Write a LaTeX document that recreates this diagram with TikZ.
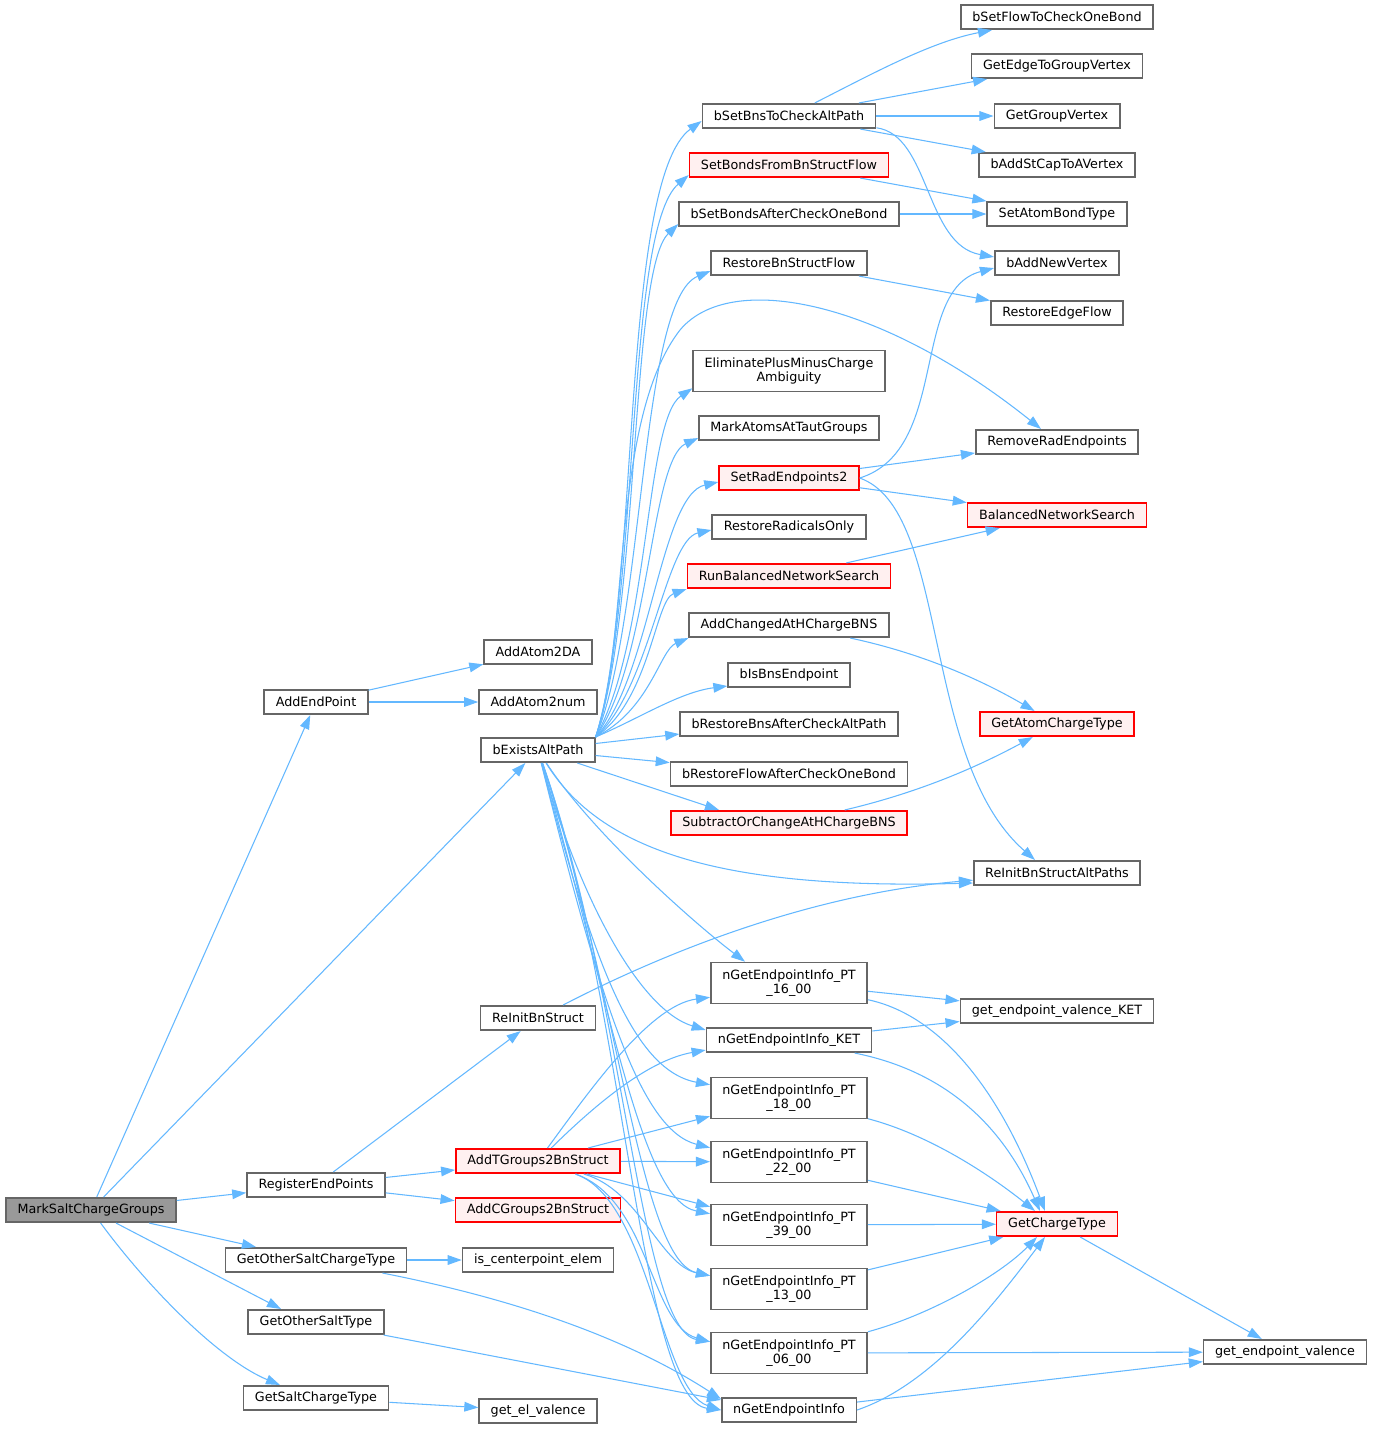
\documentclass[tikz,border=0pt]{standalone}
\usepackage{fontspec}
\setmainfont{DejaVu Sans}
\usepackage{tikz}
\usetikzlibrary{arrows.meta}
\definecolor{edgeblue}{HTML}{63B8FF}
\definecolor{boxgray}{HTML}{666666}
\definecolor{rootgray}{HTML}{999999}
\definecolor{warnred}{HTML}{FF0000}
\definecolor{warnfill}{HTML}{FFF0F0}
\tikzstyle{fn} = [rectangle, draw=boxgray, fill=white, line width=0.9pt, minimum height=0.49cm, inner xsep=0.23cm, inner ysep=0pt, font=\fontsize{7.25}{8.2}\selectfont]
\tikzstyle{fnred} = [fn, draw=warnred, fill=warnfill]
\tikzstyle{fnroot} = [fn, fill=rootgray]
\tikzstyle{twoline} = [align=center, minimum height=0.82cm]
\tikzstyle{arrow} = [draw=edgeblue, line width=0.6pt, -{Triangle[length=8pt,width=5.5pt]}]

\begin{document}
\begin{tikzpicture}[x=0.02cm, y=-0.02cm]
\fill[white] (0,0) rectangle (1375,1431);
\useasboundingbox (0,0) rectangle (1375,1431);
% callers side
\node[fnroot] (msc) at (91,1210) {MarkSaltChargeGroups};
\node[fn] (aep) at (316,702) {AddEndPoint};
\node[fn] (rep) at (316,1185) {RegisterEndPoints};
\node[fn] (gosct) at (316,1260) {GetOtherSaltChargeType};
\node[fn] (gost) at (316,1322) {GetOtherSaltType};
\node[fn] (gsct) at (316,1398) {GetSaltChargeType};
\node[fn] (a2da) at (538,652) {AddAtom2DA};
\node[fn] (a2n) at (538,702) {AddAtom2num};
\node[fn] (bex) at (538,750) {bExistsAltPath};
\node[fn] (ribs) at (538,1018) {ReInitBnStruct};
\node[fnred] (atg) at (538,1161) {AddTGroups2BnStruct};
\node[fnred] (acg) at (538,1210) {AddCGroups2BnStruct};
\node[fn] (ice) at (538,1260) {is\_centerpoint\_elem};
\node[fn] (gev) at (538,1411) {get\_el\_valence};
% middle column
\node[fn] (bsb) at (789,116) {bSetBnsToCheckAltPath};
\node[fnred] (sbf) at (789,165) {SetBondsFromBnStructFlow};
\node[fn] (sba) at (789,214) {bSetBondsAfterCheckOneBond};
\node[fn] (rbf) at (789,263) {RestoreBnStructFlow};
\node[fn, twoline] (epm) at (789,371) {EliminatePlusMinusCharge\\Ambiguity};
\node[fn] (mat) at (789,428) {MarkAtomsAtTautGroups};
\node[fnred] (sre) at (789,478) {SetRadEndpoints2};
\node[fn] (rro) at (789,527) {RestoreRadicalsOnly};
\node[fnred] (rbn) at (789,576) {RunBalancedNetworkSearch};
\node[fn] (aca) at (789,625) {AddChangedAtHChargeBNS};
\node[fn] (ibe) at (789,675) {bIsBnsEndpoint};
\node[fn] (rba) at (789,724) {bRestoreBnsAfterCheckAltPath};
\node[fn] (rfa) at (789,774) {bRestoreFlowAfterCheckOneBond};
\node[fnred] (soc) at (789,823) {SubtractOrChangeAtHChargeBNS};
\node[fn, twoline] (pt16) at (789,983) {nGetEndpointInfo\_PT\\\_16\_00};
\node[fn] (ket) at (789,1040) {nGetEndpointInfo\_KET};
\node[fn, twoline] (pt18) at (789,1098) {nGetEndpointInfo\_PT\\\_18\_00};
\node[fn, twoline] (pt22) at (789,1162) {nGetEndpointInfo\_PT\\\_22\_00};
\node[fn, twoline] (pt39) at (789,1225) {nGetEndpointInfo\_PT\\\_39\_00};
\node[fn, twoline] (pt13) at (789,1289) {nGetEndpointInfo\_PT\\\_13\_00};
\node[fn, twoline] (pt06) at (789,1353) {nGetEndpointInfo\_PT\\\_06\_00};
\node[fn] (nge) at (789,1410) {nGetEndpointInfo};
% right columns
\node[fn] (sfc) at (1057,17) {bSetFlowToCheckOneBond};
\node[fn] (getg) at (1057,66) {GetEdgeToGroupVertex};
\node[fn] (ggv) at (1057,116) {GetGroupVertex};
\node[fn] (asc) at (1057,165) {bAddStCapToAVertex};
\node[fn] (sab) at (1057,214) {SetAtomBondType};
\node[fn] (anv) at (1057,263) {bAddNewVertex};
\node[fn] (ref) at (1057,313) {RestoreEdgeFlow};
\node[fn] (rre) at (1057,442) {RemoveRadEndpoints};
\node[fnred] (bns) at (1057,515) {BalancedNetworkSearch};
\node[fnred] (gact) at (1057,724) {GetAtomChargeType};
\node[fn] (riap) at (1057,873) {ReInitBnStructAltPaths};
\node[fn] (gevk) at (1057,1011) {get\_endpoint\_valence\_KET};
\node[fnred] (gct) at (1057,1224) {GetChargeType};
\node[fn] (gepv) at (1285,1352) {get\_endpoint\_valence};

\draw[arrow] (msc) -- (aep);
\draw[arrow] (msc) -- (bex);
\draw[arrow] (msc) -- (rep);
\draw[arrow] (msc) -- ([xshift=-1.2cm]gosct.north);
\draw[arrow] (msc) -- ([xshift=-0.7cm]gost.north);
\draw[arrow] (msc) .. controls (150,1290) and (220,1360) .. ([xshift=-0.72cm]gsct.north);
\draw[arrow] (aep) -- (a2da);
\draw[arrow] (aep) -- (a2n);
\draw[arrow] (rep) -- (ribs);
\draw[arrow] (rep) -- (atg);
\draw[arrow] (rep) -- (acg);
\draw[arrow] (gosct) -- (ice);
\draw[arrow] (gosct) .. controls (520,1300) and (630,1340) .. ([yshift=-0.04cm]nge.north west);
\draw[arrow] (gost) -- ([yshift=-0.06cm]nge.north west);
\draw[arrow] (gsct) -- (gev);
\draw[arrow] (ribs) .. controls (650,960) and (800,895) .. (riap);
% bExistsAltPath, upwards
\draw[arrow] (bex.north east) .. controls (640,600) and (620,180) .. ([yshift=-0.1cm]bsb.west);
\draw[arrow] (bex.north east) .. controls (640,600) and (625,230) .. ([yshift=0.06cm]sbf.south west);
\draw[arrow] (bex.north east) .. controls (640,610) and (630,270) .. ([yshift=0.06cm]sba.south west);
\draw[arrow] (bex.north east) .. controls (645,620) and (640,300) .. ([yshift=0.1cm]rbf.south west);
\draw[arrow] (bex.north east) .. controls (630,640) and (610,420) .. (680,330) .. controls (730,270) and (880,300) .. ([xshift=-0.32cm]rre.north);
\draw[arrow] (bex.north east) .. controls (650,640) and (645,420) .. ([yshift=0.08cm]epm.south west);
\draw[arrow] (bex.north east) .. controls (650,660) and (650,460) .. ([yshift=0.06cm]mat.south west);
\draw[arrow] (bex.north east) .. controls (650,680) and (660,495) .. ([yshift=-0.08cm]sre.west);
\draw[arrow] (bex.north east) .. controls (650,690) and (665,540) .. ([yshift=-0.06cm]rro.west);
\draw[arrow] (bex.north east) .. controls (650,700) and (655,600) .. (rbn.south west);
\draw[arrow] (bex.north east) .. controls (650,710) and (660,650) .. (aca.south west);
\draw[arrow] (bex.north east) .. controls (640,718) and (680,692) .. ([yshift=0.04cm]ibe.south west);
\draw[arrow] (bex) -- ([yshift=0.06cm]rba.south west);
\draw[arrow] (bex) -- (rfa);
\draw[arrow] (bex) -- ([xshift=-1.4cm]soc.north);
\draw[arrow] (bex) .. controls (600,850) and (720,890) .. ([yshift=-0.2cm]riap.west);
% bExistsAltPath, downwards
\draw[arrow] (bex) .. controls (590,830) and (690,920) .. ([xshift=-0.88cm]pt16.north);
\draw[arrow] (bex) .. controls (580,900) and (640,1010) .. ([yshift=-0.06cm]ket.north west);
\draw[arrow] (bex) .. controls (590,950) and (630,1070) .. ([yshift=-0.16cm]pt18.north west);
\draw[arrow] (bex) .. controls (600,1000) and (640,1130) .. ([yshift=-0.14cm]pt22.north west);
\draw[arrow] (bex) .. controls (610,1000) and (640,1200) .. ([yshift=-0.2cm]pt39.north west);
\draw[arrow] (bex) .. controls (620,1000) and (640,1260) .. ([yshift=-0.16cm]pt13.north west);
\draw[arrow] (bex) .. controls (625,1000) and (640,1330) .. ([yshift=-0.2cm]pt06.north west);
\draw[arrow] (bex) .. controls (625,1000) and (640,1400) .. (nge.west);
% AddTGroups2BnStruct
\draw[arrow] (atg) .. controls (590,1090) and (650,1005) .. ([yshift=0.14cm]pt16.south west);
\draw[arrow] (atg) .. controls (600,1100) and (650,1060) .. ([yshift=0.06cm]ket.south west);
\draw[arrow] (atg) -- ([yshift=0.06cm]pt18.south west);
\draw[arrow] (atg) -- (pt22);
\draw[arrow] (atg) -- ([yshift=-0.06cm]pt39.north west);
\draw[arrow] (atg) .. controls (640,1190) and (660,1265) .. ([yshift=-0.16cm]pt13.north west);
\draw[arrow] (atg) .. controls (650,1200) and (650,1325) .. ([yshift=-0.2cm]pt06.north west);
\draw[arrow] (atg) .. controls (650,1200) and (660,1390) .. (nge.west);
% middle to right
\draw[arrow] (bsb) .. controls (870,75) and (930,42) .. ([xshift=-1.3cm]sfc.south);
\draw[arrow] (bsb) -- (getg);
\draw[arrow] (bsb) -- (ggv);
\draw[arrow] (bsb) -- (asc);
\draw[arrow] (bsb) .. controls (930,135) and (925,245) .. ([yshift=-0.14cm]anv.north west);
\draw[arrow] (sbf) -- (sab);
\draw[arrow] (sba) -- (sab);
\draw[arrow] (rbf) -- (ref);
\draw[arrow] (sre.east) .. controls (950,450) and (910,290) .. ([yshift=0.16cm]anv.south west);
\draw[arrow] (sre) -- (rre);
\draw[arrow] (sre) -- (bns);
\draw[arrow] (sre.east) .. controls (950,510) and (920,760) .. ([xshift=-0.44cm]riap.north);
\draw[arrow] (rbn) -- (bns);
\draw[arrow] (aca) .. controls (930,655) and (990,685) .. (gact);
\draw[arrow] (soc) .. controls (930,790) and (990,760) .. (gact);
\draw[arrow] (pt16) -- (gevk);
\draw[arrow] (pt16) .. controls (940,1015) and (1000,1090) .. ([xshift=-0.24cm]gct.north);
\draw[arrow] (ket) -- (gevk);
\draw[arrow] (ket) .. controls (940,1070) and (1000,1120) .. ([xshift=-0.34cm]gct.north);
\draw[arrow] (pt18) .. controls (930,1135) and (990,1175) .. ([xshift=-0.44cm]gct.north);
\draw[arrow] (pt22) -- (gct);
\draw[arrow] (pt39) -- (gct);
\draw[arrow] (pt13) -- (gct);
\draw[arrow] (pt06) .. controls (930,1315) and (1000,1275) .. ([xshift=-0.4cm]gct.south);
\draw[arrow] (pt06) -- (gepv);
\draw[arrow] (nge.east) .. controls (930,1385) and (990,1310) .. ([xshift=-0.24cm]gct.south);
\draw[arrow] (nge) -- (gepv);
\draw[arrow] (gct) -- (gepv);
\end{tikzpicture}
\end{document}
